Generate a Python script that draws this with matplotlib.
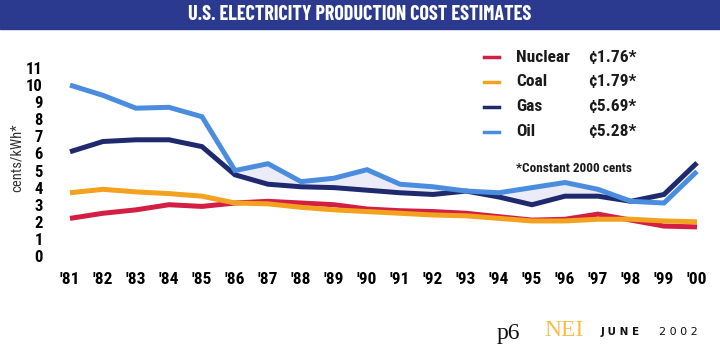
import matplotlib
matplotlib.use("Agg")
import matplotlib.pyplot as plt
import matplotlib.font_manager as fm
from matplotlib.lines import Line2D
from matplotlib.patches import Rectangle

# data (constant 2000 cents per kWh)
years = list(range(1981, 2001))
year_labels = ["'%02d" % (y % 100) for y in years]
nuclear = [2.2, 2.5, 2.7, 3.0, 2.9, 3.1, 3.2, 3.1, 3.0, 2.75,
           2.65, 2.6, 2.5, 2.3, 2.1, 2.15, 2.45, 2.1, 1.75, 1.7]
coal = [3.7, 3.9, 3.75, 3.65, 3.5, 3.1, 3.05, 2.85, 2.7, 2.6,
        2.5, 2.4, 2.35, 2.2, 2.05, 2.05, 2.15, 2.15, 2.05, 2.0]
gas = [6.1, 6.7, 6.8, 6.8, 6.4, 4.75, 4.2, 4.05, 4.0, 3.85,
       3.7, 3.6, 3.8, 3.45, 3.0, 3.5, 3.5, 3.2, 3.6, 5.45]
oil = [10.0, 9.4, 8.65, 8.7, 8.15, 5.0, 5.4, 4.35, 4.55, 5.05,
       4.2, 4.05, 3.8, 3.7, 4.0, 4.3, 3.9, 3.2, 3.1, 4.95]
series_names = ["Nuclear", "Coal", "Gas", "Oil"]
series_costs = ["¢1.76*", "¢1.79*", "¢5.69*", "¢5.28*"]
yticks = list(range(0, 12))

colors = {"Nuclear": "#d41f45", "Coal": "#f2a21e", "Gas": "#1f2a6e", "Oil": "#4a8ddf"}

installed = {f.name for f in fm.fontManager.ttflist}


def pick(*names):
    for n in names:
        if n in installed:
            return [n, "DejaVu Sans"]
    return ["DejaVu Sans"]


FONT = pick("Roboto Condensed", "Fira Sans Condensed", "PT Sans Narrow", "Liberation Sans")
TITLE_FONT = pick("Barlow Condensed", "Roboto Condensed", "Liberation Sans")

fig = plt.figure(figsize=(7.2, 3.54), dpi=100)
W, H = 720.0, 354.0

# title banner
fig.patches.append(Rectangle((0, 1 - 29 / H), 1, 29 / H, transform=fig.transFigure,
                             color="#2b3a8e", zorder=0))
fig.text(0.5, 1 - 15 / H, "U.S. ELECTRICITY PRODUCTION COST ESTIMATES",
         ha="center", va="center", color="white", fontsize=14.5,
         fontweight="bold", family=TITLE_FONT)

ax = fig.add_axes([56.8 / W, 1 - 259.4 / H, (710.2 - 56.8) / W, (259.4 - 64.6) / H])
ax.fill_between(years, gas, oil,
                where=[(yr >= 1986) and (o >= g) for yr, o, g in zip(years, oil, gas)],
                interpolate=True, color="#ececf8", lw=0, zorder=1)
for name, vals in zip(series_names, [nuclear, coal, gas, oil]):
    ax.plot(years, vals, color=colors[name], lw=3.6, solid_capstyle="butt",
            solid_joinstyle="miter", zorder=2)

ax.set_xlim(1980.6, 2000.4)
ax.set_ylim(-0.2, 11.2)
ax.set_xticks(years)
ax.set_xticklabels(year_labels)
ax.set_yticks(yticks)
for s in ax.spines.values():
    s.set_visible(False)
ax.tick_params(length=0)
ax.tick_params(axis="x", pad=9)
ax.tick_params(axis="y", pad=10)
for lab in ax.get_xticklabels():
    lab.set_family(FONT)
    lab.set_fontweight("bold")
    lab.set_fontsize(12.5)
for lab in ax.get_yticklabels():
    lab.set_family(FONT)
    lab.set_fontweight("bold")
    lab.set_fontsize(12)

fig.text(17 / W, 1 - 158 / H, "cents/kWh*", rotation=90, ha="center", va="center",
         fontsize=10.5, family=FONT, color="#333333")

# legend
row_y = [57, 82, 107, 132]
for name, cost, y in zip(series_names, series_costs, row_y):
    fy = 1 - y / H
    fig.add_artist(Line2D([484 / W, 499 / W], [fy, fy], transform=fig.transFigure,
                          color=colors[name], lw=2.5))
    fig.text(516 / W, fy, name, ha="left", va="center", fontsize=12.5,
             fontweight="bold", family=FONT, color="#1a1a1a")
    fig.text(588 / W, fy, cost, ha="left", va="center", fontsize=12.5,
             fontweight="bold", family=FONT, color="#1a1a1a")
fig.text(516 / W, 1 - 168 / H, "*Constant 2000 cents", ha="left", va="center",
         fontsize=9.5, fontweight="bold", family=FONT, color="#1a1a1a")

# footer
fig.text(497 / W, 1 - 333 / H, "p6", ha="left", va="center", fontsize=17,
         family="Liberation Serif", color="#111111")
fig.text(544 / W, 1 - 331 / H, "NEI", ha="left", va="center", fontsize=17,
         family="Liberation Serif", color="#f5c04a")
fig.text(601 / W, 1 - 332 / H, "J U N E", ha="left", va="center", fontsize=7.5,
         fontweight="bold", family="DejaVu Sans", color="#111111")
fig.text(659 / W, 1 - 332 / H, "2 0 0 2", ha="left", va="center", fontsize=8,
         family="DejaVu Sans", color="#111111")

fig.savefig("out.png", dpi=100)
